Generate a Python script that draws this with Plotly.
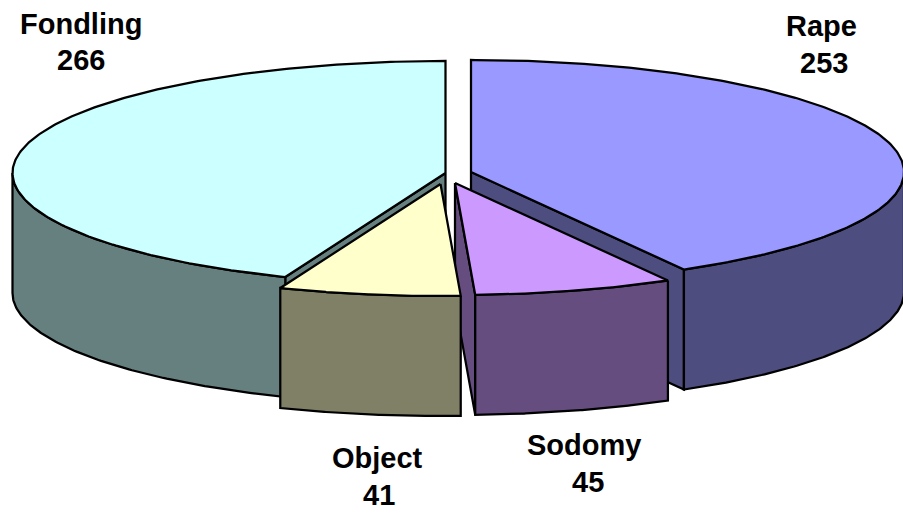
import numpy as np
import plotly.graph_objects as go

categories = ["Rape", "Sodomy", "Object", "Fondling"]
values = [253, 45, 41, 266]
top_colors = ["#9999FF", "#CC99FF", "#FFFFCC", "#CCFFFF"]
side_colors = ["#4D4D80", "#664D80", "#808066", "#668080"]

# projected pie geometry (pixels) and exploded slice apexes
RX, RY, DEPTH = 433, 112, 120
apex = {"Rape": (471, 172), "Sodomy": (455, 183), "Object": (440.5, 184), "Fondling": (445.5, 173)}
# draw back-to-front
order = ["Fondling", "Rape", "Sodomy", "Object"]
# label anchors: name (x, y), value (x, y)
label_pos = {"Rape": (821, 26, 824, 63), "Sodomy": (584, 445, 588, 482),
             "Object": (377, 458, 379, 495), "Fondling": (81, 24, 81, 60)}

total = sum(values)
edges = np.concatenate([[0], np.cumsum(values)]) * 2 * np.pi / total
span = {c: (edges[i], edges[i + 1]) for i, c in enumerate(categories)}


def rim(c, a, b, n=120):
    th = np.linspace(a, b, n)
    ax, ay = apex[c]
    return ax + RX * np.sin(th), ay - RY * np.cos(th)


fig = go.Figure()


def poly(x, y, color):
    fig.add_trace(go.Scatter(
        x=list(x) + [x[0]], y=list(y) + [y[0]], mode="lines", fill="toself",
        fillcolor=color, line=dict(color="black", width=2.25, shape="linear"),
        hoverinfo="skip", showlegend=False))


def cut_face(c, th):
    ax, ay = apex[c]
    px, py = ax + RX * np.sin(th), ay - RY * np.cos(th)
    poly([ax, px, px, ax], [ay, py, py + DEPTH, ay + DEPTH], side_colors[categories.index(c)])


def wall(c):
    a, b = span[c]
    # only the front half of the rim (90 to 270 degrees) faces the viewer
    lo, hi = max(a, np.pi / 2), min(b, 3 * np.pi / 2)
    if lo >= hi:
        return
    x, y = rim(c, lo, hi)
    poly(np.r_[x, x[::-1]], np.r_[y, y[::-1] + DEPTH], side_colors[categories.index(c)])


def top(c):
    a, b = span[c]
    x, y = rim(c, a, b, 240)
    ax, ay = apex[c]
    poly(np.r_[ax, x], np.r_[ay, y], top_colors[categories.index(c)])


for c in order:
    a, b = span[c]
    if c == "Rape":
        cut_face(c, b)
    elif c == "Sodomy":
        cut_face(c, b)
    elif c == "Fondling":
        cut_face(c, a)
    wall(c)
    top(c)

for c, v in zip(categories, values):
    x1, y1, x2, y2 = label_pos[c]
    for txt, lx, ly in ((c, x1, y1), (str(v), x2, y2)):
        fig.add_annotation(x=lx, y=ly, text=f"<b>{txt}</b>", showarrow=False,
                           xanchor="center", yanchor="middle",
                           font=dict(family="Liberation Sans", size=29, color="black"))

fig.update_layout(
    width=903, height=514, margin=dict(l=0, r=0, t=0, b=0),
    paper_bgcolor="white", plot_bgcolor="white", showlegend=False,
    xaxis=dict(range=[0, 903], visible=False, fixedrange=True),
    yaxis=dict(range=[514, 0], visible=False, fixedrange=True),
)
fig.write_html("out.html", config={"displayModeBar": False},
               post_script="document.body.style.margin='0';document.documentElement.style.overflow='hidden';")
